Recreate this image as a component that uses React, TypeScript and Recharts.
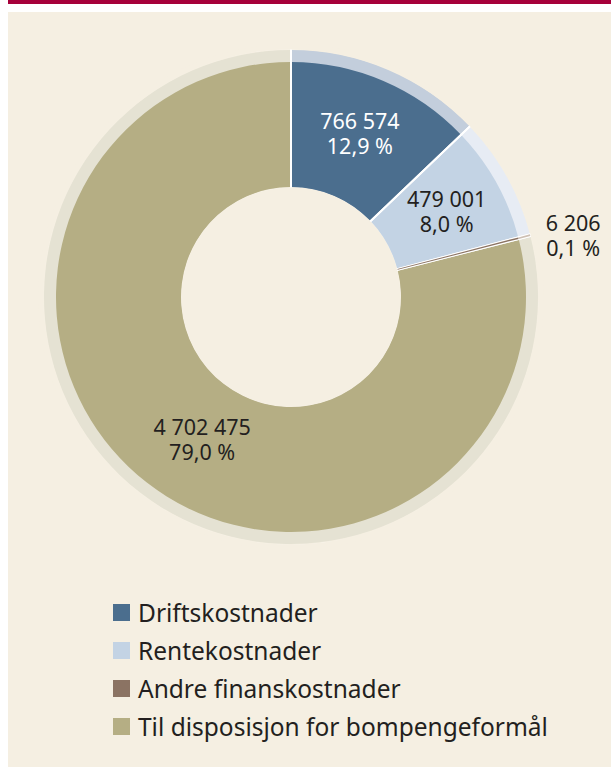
import { PieChart, Pie, Cell } from "recharts";

// Kostnader og disponibelt beløp, bompengeselskap. Donut with a pale outer
// rim per slice, white radial separators, and a plain HTML legend below.

const NAMES = [
  "Driftskostnader",
  "Rentekostnader",
  "Andre finanskostnader",
  "Til disposisjon for bompengeformål",
];
const VALUES = [766574, 479001, 6206, 4702475];
const VALUE_LABELS = ["766 574", "479 001", "6 206", "4 702 475"];
const PCT_LABELS = ["12,9 %", "8,0 %", "0,1 %", "79,0 %"];

const FILLS = ["#4b6e8e", "#c3d3e4", "#8b7363", "#b5ae84"];
const RIM_FILLS = ["#c3cedc", "#e7ecf4", "#cdbfb3", "#e5e2d3"];
const LABEL_COLORS = ["#ffffff", "#231f20", "#231f20", "#231f20"];

// label placement: radius offset from mid-ring and small nudges (px)
const LABEL_R = [0, 0, 118, 0];
const LABEL_NUDGE: [number, number][] = [
  [1, -4],
  [5, -1],
  [1, 12],
  [17, 7],
];

const CREAM = "#f5efe2";
const RED = "#a6003a";
const FONT = "'Noto Sans', 'Open Sans', sans-serif";

const data = NAMES.map((name, i) => ({ name, value: VALUES[i] }));
const whole = [{ name: "bg", value: 1 }];

// chart has a 5px default margin, so these are relative to it
const CX = 278;
const CY = 280;
const INNER = 110;
const OUTER = 235;
const RIM = 247;

const RAD = Math.PI / 180;

function renderLabel(props: any) {
  const { cx, cy, midAngle, innerRadius, outerRadius, index } = props;
  const r = (innerRadius + outerRadius) / 2 + LABEL_R[index];
  const x = cx + Math.cos(-midAngle * RAD) * r + LABEL_NUDGE[index][0];
  const y = cy + Math.sin(-midAngle * RAD) * r + LABEL_NUDGE[index][1];
  return (
    <g key={`lbl-${index}`}>
      <text
        x={x}
        y={y - 5}
        textAnchor="middle"
        fontFamily={FONT}
        fontSize={21.5}
        fill={LABEL_COLORS[index]}
      >
        {VALUE_LABELS[index]}
      </text>
      <text
        x={x}
        y={y + 20}
        textAnchor="middle"
        fontFamily={FONT}
        fontSize={21.5}
        fill={LABEL_COLORS[index]}
      >
        {PCT_LABELS[index]}
      </text>
    </g>
  );
}

const ring = {
  dataKey: "value",
  cx: CX,
  cy: CY,
  startAngle: 90,
  endAngle: -270,
  isAnimationActive: false,
  legendType: "none" as const,
};

export default function App() {
  return (
    <div
      style={{
        position: "absolute",
        left: 8,
        top: 0,
        width: 603,
        height: 767,
        background: "#ffffff",
        fontFamily: FONT,
      }}
    >
      <div style={{ height: 4, background: RED }} />
      <div
        style={{
          position: "absolute",
          left: 0,
          top: 12,
          width: 603,
          height: 755,
          background: CREAM,
        }}
      >
        <PieChart width={603} height={570}>
          {/* pale rim */}
          <Pie {...ring} data={data} innerRadius={INNER} outerRadius={RIM} stroke="none">
            {data.map((d, i) => (
              <Cell key={d.name} fill={RIM_FILLS[i]} />
            ))}
          </Pie>
          {/* main ring */}
          <Pie {...ring} data={data} innerRadius={INNER} outerRadius={OUTER} stroke="none">
            {data.map((d, i) => (
              <Cell key={d.name} fill={FILLS[i]} />
            ))}
          </Pie>
          {/* white separators */}
          <Pie
            {...ring}
            data={data}
            innerRadius={INNER - 2}
            outerRadius={RIM + 2}
            fill="none"
            stroke="#ffffff"
            strokeWidth={2}
          />
          {/* the thin slice goes back on top of its separators */}
          <Pie {...ring} data={data} innerRadius={INNER} outerRadius={OUTER} stroke="none">
            {data.map((d, i) => (
              <Cell key={d.name} fill={i === 2 ? FILLS[i] : "none"} />
            ))}
          </Pie>
          <Pie {...ring} data={data} innerRadius={OUTER} outerRadius={RIM} stroke="none">
            {data.map((d, i) => (
              <Cell key={d.name} fill={i === 2 ? RIM_FILLS[i] : "none"} />
            ))}
          </Pie>
          {/* trim the separator arcs */}
          <Pie
            {...ring}
            data={whole}
            innerRadius={0}
            outerRadius={INNER - 0.5}
            fill={CREAM}
            stroke="none"
          />
          <Pie
            {...ring}
            data={whole}
            innerRadius={RIM + 0.5}
            outerRadius={RIM + 6}
            fill={CREAM}
            stroke="none"
          />
          {/* labels on top */}
          <Pie
            {...ring}
            data={data}
            innerRadius={INNER}
            outerRadius={OUTER}
            fill="none"
            stroke="none"
            label={renderLabel}
            labelLine={false}
          />
        </PieChart>
        <div style={{ position: "absolute", left: 105, top: 581 }}>
          {NAMES.map((name, i) => (
            <div
              key={name}
              style={{
                display: "flex",
                alignItems: "center",
                height: 38,
                fontSize: 24.5,
                color: "#231f20",
              }}
            >
              <span
                style={{
                  width: 17,
                  height: 17,
                  background: FILLS[i],
                  marginRight: 8,
                  flex: "none",
                }}
              />
              <span>{name}</span>
            </div>
          ))}
        </div>
      </div>
    </div>
  );
}
